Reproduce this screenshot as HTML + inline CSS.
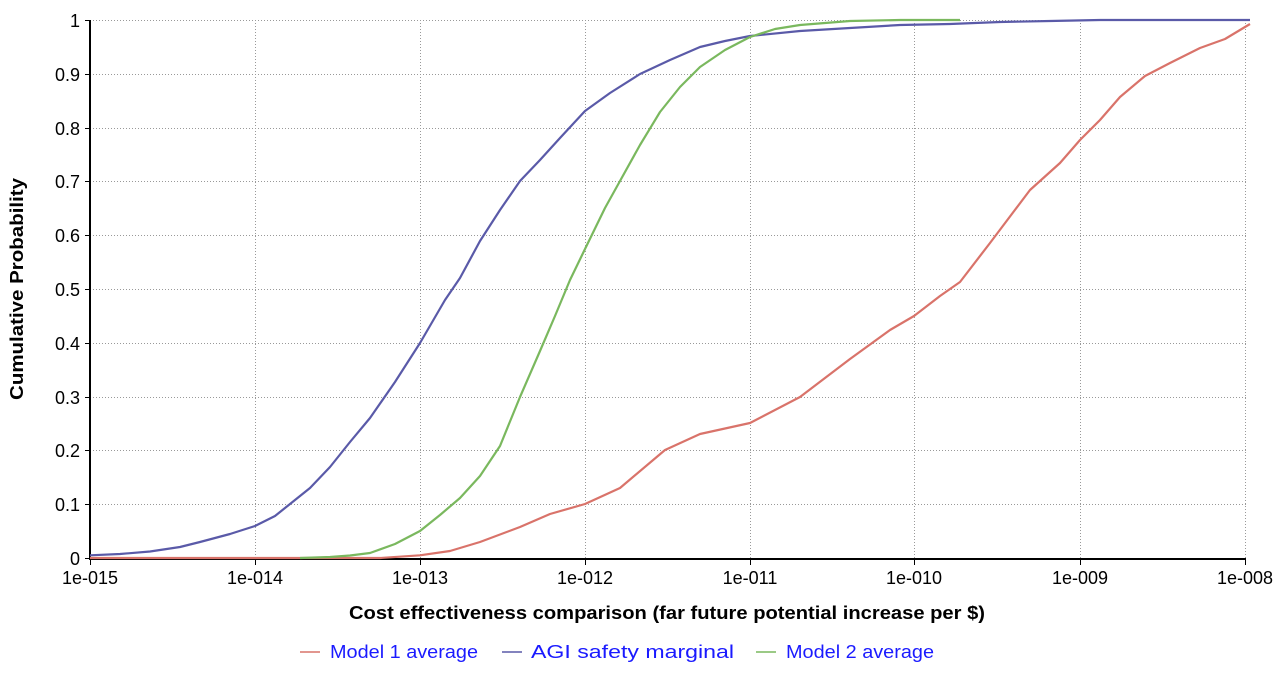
<!DOCTYPE html>
<html><head><style>
body{margin:0;background:#fff;}
svg text{font-family:"Liberation Sans",Arial,sans-serif;}
</style></head><body>
<svg width="1281" height="673" xmlns="http://www.w3.org/2000/svg">
<g stroke="#999" stroke-width="1" stroke-dasharray="1,2" fill="none">
<line x1="90" y1="20.5" x2="1246" y2="20.5"/>
<line x1="90" y1="74.5" x2="1246" y2="74.5"/>
<line x1="90" y1="128.5" x2="1246" y2="128.5"/>
<line x1="90" y1="181.5" x2="1246" y2="181.5"/>
<line x1="90" y1="235.5" x2="1246" y2="235.5"/>
<line x1="90" y1="289.5" x2="1246" y2="289.5"/>
<line x1="90" y1="343.5" x2="1246" y2="343.5"/>
<line x1="90" y1="397.5" x2="1246" y2="397.5"/>
<line x1="90" y1="450.5" x2="1246" y2="450.5"/>
<line x1="90" y1="504.5" x2="1246" y2="504.5"/>
<line x1="255.5" y1="20" x2="255.5" y2="558"/>
<line x1="420.5" y1="20" x2="420.5" y2="558"/>
<line x1="585.5" y1="20" x2="585.5" y2="558"/>
<line x1="750.5" y1="20" x2="750.5" y2="558"/>
<line x1="914.5" y1="20" x2="914.5" y2="558"/>
<line x1="1080.5" y1="20" x2="1080.5" y2="558"/>
<line x1="1245.5" y1="20" x2="1245.5" y2="558"/>
</g>
<g stroke="#000" stroke-width="2" fill="none">
<line x1="90" y1="20" x2="90" y2="560"/>
<line x1="89" y1="559" x2="1246" y2="559"/>
</g>
<g stroke="#000" stroke-width="1">
<line x1="85" y1="20.5" x2="90" y2="20.5"/><line x1="85" y1="74.5" x2="90" y2="74.5"/><line x1="85" y1="128.5" x2="90" y2="128.5"/><line x1="85" y1="181.5" x2="90" y2="181.5"/><line x1="85" y1="235.5" x2="90" y2="235.5"/><line x1="85" y1="289.5" x2="90" y2="289.5"/><line x1="85" y1="343.5" x2="90" y2="343.5"/><line x1="85" y1="397.5" x2="90" y2="397.5"/><line x1="85" y1="450.5" x2="90" y2="450.5"/><line x1="85" y1="504.5" x2="90" y2="504.5"/><line x1="85" y1="558.5" x2="90" y2="558.5"/>
<line x1="90.5" y1="559" x2="90.5" y2="565"/><line x1="255.5" y1="559" x2="255.5" y2="565"/><line x1="420.5" y1="559" x2="420.5" y2="565"/><line x1="585.5" y1="559" x2="585.5" y2="565"/><line x1="750.5" y1="559" x2="750.5" y2="565"/><line x1="914.5" y1="559" x2="914.5" y2="565"/><line x1="1080.5" y1="559" x2="1080.5" y2="565"/><line x1="1245.5" y1="559" x2="1245.5" y2="565"/>
</g>
<g font-size="18" text-anchor="end" fill="#000">
<text x="80" y="27">1</text><text x="80" y="81">0.9</text><text x="80" y="135">0.8</text><text x="80" y="188">0.7</text><text x="80" y="242">0.6</text><text x="80" y="296">0.5</text><text x="80" y="350">0.4</text><text x="80" y="404">0.3</text><text x="80" y="457">0.2</text><text x="80" y="511">0.1</text><text x="80" y="565">0</text>
</g>
<g font-size="18" text-anchor="middle" fill="#000">
<text x="90" y="584">1e-015</text><text x="255" y="584">1e-014</text><text x="420" y="584">1e-013</text><text x="585" y="584">1e-012</text><text x="750" y="584">1e-011</text><text x="914" y="584">1e-010</text><text x="1080" y="584">1e-009</text><text x="1245" y="584">1e-008</text>
</g>
<text x="667" y="619" font-size="18" font-weight="bold" text-anchor="middle" textLength="636" lengthAdjust="spacingAndGlyphs">Cost effectiveness comparison (far future potential increase per $)</text>
<text transform="translate(23,289) rotate(-90)" font-size="18" font-weight="bold" text-anchor="middle" textLength="222" lengthAdjust="spacingAndGlyphs">Cumulative Probability</text>
<g fill="none" stroke-width="2.2" stroke-linejoin="round">
<polyline stroke="#d9736a" points="90,558 380,558 420,555.3 450,551 480,542 520,527 550,514 585,504 620,488 665,450 700,434 750,423 800,397 850,359 890,330 914,316 940,296 960,282 990,243 1030,190 1060,163 1080,140 1100,120 1120,97 1145,76 1170,63 1200,48 1225,39 1250,24"/>
<polyline stroke="#5a5aa8" points="90,555.3 120,554 150,551.5 180,547 200,542 230,534 255,526 275,516 290,504 310,488 330,467 350,442 370,418 395,382 420,343 445,300 460,278 480,241 500,210 520,181 540,160 560,138 585,111 610,93 640,74 670,60 700,47 725,41 750,36 800,31 850,28 900,25 950,24 1000,22 1050,21 1100,20 1250,20"/>
<polyline stroke="#7ab85e" points="300,558 330,557 350,555.5 370,553 395,544 420,531 440,515 460,498 480,476 500,446 520,397 540,351 555,316 570,280 585,249 605,208 620,181 640,145 660,112 680,87 700,67 725,50 750,37 775,29 800,25 850,21 900,20 960,20"/>
</g>
<g font-size="18" fill="#1a1aff">
<line x1="300" y1="652" x2="320" y2="652" stroke="#d9736a" stroke-width="1.5"/>
<text x="330" y="658" textLength="148" lengthAdjust="spacingAndGlyphs">Model 1 average</text>
<line x1="502" y1="652" x2="522" y2="652" stroke="#5a5aa8" stroke-width="1.5"/>
<text x="531" y="658" textLength="203" lengthAdjust="spacingAndGlyphs">AGI safety marginal</text>
<line x1="756" y1="652" x2="776" y2="652" stroke="#7ab85e" stroke-width="1.5"/>
<text x="786" y="658" textLength="148" lengthAdjust="spacingAndGlyphs">Model 2 average</text>
</g>
</svg>
</body></html>
